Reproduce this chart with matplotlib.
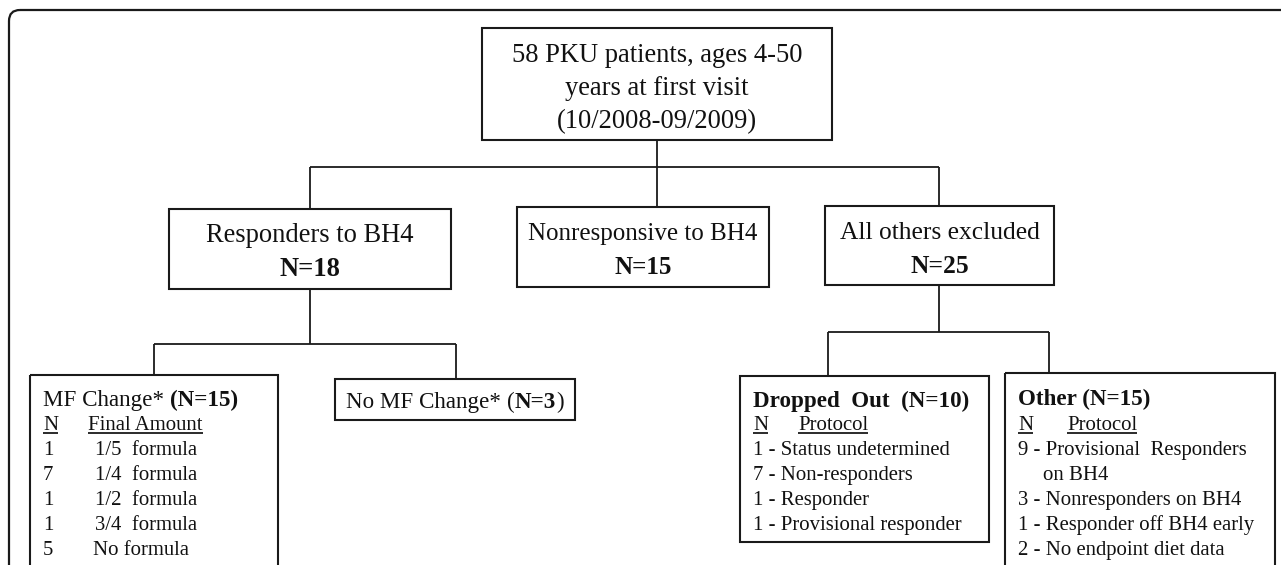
import matplotlib
matplotlib.use("Agg")
import matplotlib.pyplot as plt
from matplotlib.patches import Rectangle, FancyBboxPatch

FONT = "Liberation Serif"
INK = "#111111"

# chart content
top_lines = ["58 PKU patients, ages 4-50", "years at first visit", "(10/2008-09/2009)"]
groups = ["Responders to BH4", "Nonresponsive to BH4", "All others excluded"]
group_n = [18, 15, 25]

mf_change_n = 15
no_mf_change_n = 3
mf_counts = [1, 7, 1, 1, 5]
mf_amounts = ["1/5  formula", "1/4  formula", "1/2  formula", "3/4  formula", "No formula"]

dropped_n = 10
dropped_counts = [1, 7, 1, 1]
dropped_protocol = ["Status undetermined", "Non-responders", "Responder", "Provisional responder"]

other_n = 15
other_counts = [9, 3, 1, 2]
other_protocol = ["Provisional  Responders\non BH4", "Nonresponders on BH4",
                  "Responder off BH4 early", "No endpoint diet data"]

W, H = 1281, 565
fig = plt.figure(figsize=(W / 100, H / 100), dpi=100)
ax = fig.add_axes([0, 0, 1, 1])
ax.set_xlim(0, W)
ax.set_ylim(H, 0)
ax.axis("off")
r = fig.canvas.get_renderer()

PT = 0.72  # px -> pt at 100 dpi
TOP = 26.5 * PT
BIG = [26.5 * PT, 25 * PT, 25.5 * PT]
HEAD = 23 * PT
ROW = 20.8 * PT


def box(x0, y0, x1, y1):
    ax.add_patch(Rectangle((x0, y0), x1 - x0, y1 - y0, fill=False,
                           ec="#1a1a1a", lw=1.5, zorder=2))


def line(xs, ys):
    ax.plot(xs, ys, color="#1a1a1a", lw=1.3, solid_capstyle="butt", zorder=1)


def txt(x, y, s, size, weight="normal", ha="left", va="baseline"):
    return ax.text(x, y, s, fontsize=size, fontweight=weight, ha=ha, va=va,
                   family=FONT, color=INK)


def rich(x, y, parts, size, ha="left", gap=0.26):
    ts = [txt(x, y, s, size, w) for s, w, _ in parts]
    ws = [t.get_window_extent(r).width for t in ts]
    total = sum(ws) + sum(size / PT * gap for _, _, sp in parts if sp)
    cur = x - total / 2 if ha == "center" else x
    for t, w, (_, _, sp) in zip(ts, ws, parts):
        t.set_x(cur)
        cur += w + (size / PT * gap if sp else 0)


def underlined(x, y, s, size):
    t = txt(x, y, s, size)
    bb = t.get_window_extent(r)
    line([bb.x0, bb.x1], [y + 2.5, y + 2.5])


# outer frame with rounded top-left corner
ax.add_patch(FancyBboxPatch((9, 10), 1400, 700, boxstyle="round,pad=0,rounding_size=11",
                            fill=False, ec="#1a1a1a", lw=1.6, zorder=0))

# top box
box(482, 28, 832, 140)
for i, s in enumerate(top_lines):
    txt(657, 62 + i * 33, s, TOP, ha="center")

# connectors level 1
line([657, 657], [140, 207])
line([310, 939], [167, 167])
line([310, 310], [167, 209])
line([939, 939], [167, 206])

# level 2 boxes
lvl2 = [(169, 209, 451, 289), (517, 207, 769, 287), (825, 206, 1054, 285)]
for (x0, y0, x1, y1), g, n, fs in zip(lvl2, groups, group_n, BIG):
    box(x0, y0, x1, y1)
    cx = (x0 + x1) / 2
    txt(cx, y0 + 33, g, fs, ha="center")
    txt(cx, y0 + 67, f"N={n}", fs, weight="bold", ha="center")

# responders branch
line([310, 310], [289, 344])
line([154, 456], [344, 344])
line([154, 154], [344, 375])
line([456, 456], [344, 379])

base = 430
box(30, 375, 278, 620)
rich(43, 406, [("MF Change*", "normal", True), (f"(N={mf_change_n})", "bold", False)], HEAD)
underlined(43, base, "N", ROW)
underlined(88, base, "Final Amount", ROW)
for i, (c, a) in enumerate(zip(mf_counts, mf_amounts)):
    y = base + 25 * (i + 1)
    txt(43, y, str(c), ROW)
    txt(93 if a.startswith("No") else 95, y, a, ROW)

box(335, 379, 575, 420)
rich(455, 408, [("No MF Change*", "normal", True), ("(", "normal", False),
                (f"N={no_mf_change_n}", "bold", False), (")", "normal", False)],
     HEAD, ha="center")

# excluded branch
line([939, 939], [285, 332])
line([828, 1049], [332, 332])
line([828, 828], [332, 376])
line([1049, 1049], [332, 374])

box(740, 376, 989, 542)
txt(753, 407, f"Dropped  Out  (N={dropped_n})", HEAD, weight="bold")
underlined(753, base, "N", ROW)
underlined(798, base, "Protocol", ROW)
for i, (c, p) in enumerate(zip(dropped_counts, dropped_protocol)):
    txt(753, base + 25 * (i + 1), f"{c} - {p}", ROW)

box(1005, 373, 1275, 620)
txt(1018, 405, f"Other (N={other_n})", HEAD, weight="bold")
underlined(1018, base, "N", ROW)
underlined(1067, base, "Protocol", ROW)
k = 1
for c, p in zip(other_counts, other_protocol):
    first, *rest = p.split("\n")
    txt(1018, base + 25 * k, f"{c} - {first}", ROW)
    k += 1
    for extra in rest:
        txt(1043, base + 25 * k, extra, ROW)
        k += 1

fig.savefig("out.png", dpi=100, facecolor="white")
